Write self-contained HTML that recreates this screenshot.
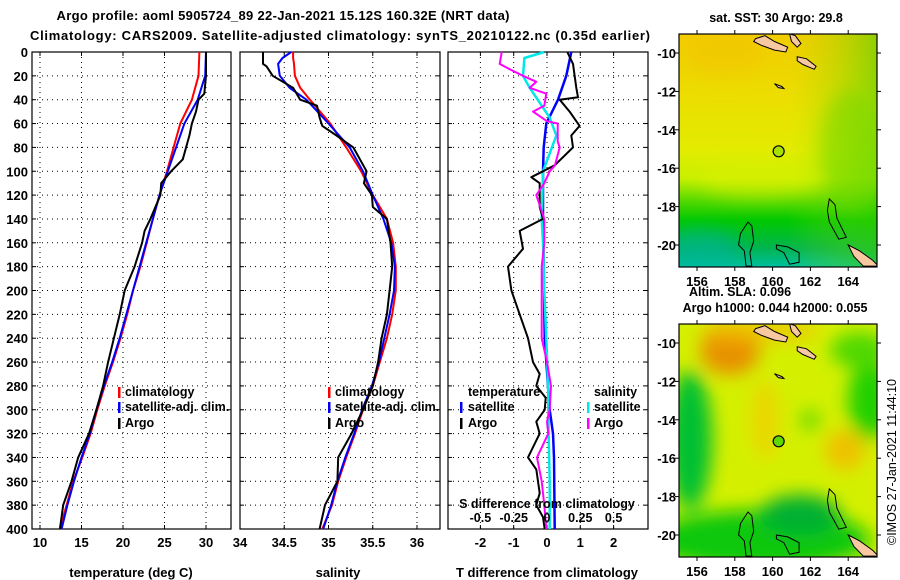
<!DOCTYPE html>
<html><head><meta charset="utf-8"><style>
html,body{margin:0;padding:0;background:#fff;}
svg{display:block;font-family:"Liberation Sans",sans-serif;font-weight:bold;}
</style></head><body>
<svg id="fig" width="900" height="580" viewBox="0 0 900 580" xmlns="http://www.w3.org/2000/svg">
<defs>
<linearGradient id="sstV" x1="0" y1="0" x2="0" y2="1">
<stop offset="0" stop-color="#f2cc00"/><stop offset="0.25" stop-color="#ecdc00"/>
<stop offset="0.5" stop-color="#e2ec00"/><stop offset="0.62" stop-color="#c8f000"/>
<stop offset="0.72" stop-color="#50d800"/><stop offset="0.8" stop-color="#00c800"/>
<stop offset="0.92" stop-color="#00b450"/><stop offset="1" stop-color="#00c0a0"/>
</linearGradient>
<linearGradient id="sstH" x1="0" y1="0" x2="1" y2="0">
<stop offset="0" stop-color="#b0e000" stop-opacity="0"/><stop offset="0.55" stop-color="#b0e000" stop-opacity="0"/>
<stop offset="1" stop-color="#40d000" stop-opacity="0.55"/>
</linearGradient>
<filter id="blur" x="-20%" y="-20%" width="140%" height="140%"><feGaussianBlur stdDeviation="9"/></filter>
<clipPath id="clipMap1"><rect x="679" y="34" width="198" height="233"/></clipPath>
<clipPath id="clipMap2"><rect x="679" y="324" width="198" height="233"/></clipPath>
</defs>
<text x="283" y="20" text-anchor="middle" font-size="13" textLength="453">Argo profile: aoml 5905724_89 22-Jan-2021 15.12S 160.32E (NRT data)</text>
<text x="340" y="40" text-anchor="middle" font-size="13" textLength="620">Climatology: CARS2009. Satellite-adjusted climatology: synTS_20210122.nc (0.35d earlier)</text>
<g id="panels"></g>
<g id="maps"></g>
</svg>
<script>
// ---------- data ----------
const depthsT = [0,20,40,60,80,100,120,140,160,180,200,220,240,260,280,300,320,340,360,380,400];
const tempClim = [29.2,29.1,28.3,26.9,26.1,25.3,24.4,23.6,22.85,22.1,21.2,20.5,19.7,18.8,17.8,16.9,16.1,15.1,14.0,13.2,12.4];
const tempSat  = [30.0,29.9,29.0,27.4,26.4,25.4,24.4,23.6,22.8,22.0,21.2,20.4,19.6,18.7,17.7,16.8,16.0,15.0,14.1,13.3,12.6];
const depthsArgo = [0,20,35,40,50,60,70,80,90,100,110,120,140,150,160,180,200,220,240,260,280,300,320,340,360,380,400];
const tempArgo = [30.0,30.0,29.8,29.1,28.8,28.3,28.0,27.6,27.2,25.8,24.6,24.5,23.3,22.6,22.3,21.4,20.2,19.6,18.9,18.2,17.6,16.8,15.9,14.6,13.8,12.8,12.4];
const depthsS = [0,5,10,20,30,40,60,80,100,120,140,160,180,200,220,240,260,280,300,320,340,360,380,400];
const salClim = [34.60,34.60,34.61,34.62,34.68,34.79,35.02,35.20,35.37,35.50,35.66,35.73,35.76,35.76,35.72,35.66,35.58,35.50,35.39,35.30,35.20,35.11,35.04,34.93];
const salSat  = [34.58,34.48,34.43,34.45,34.56,34.75,35.00,35.24,35.39,35.50,35.62,35.71,35.75,35.74,35.69,35.63,35.57,35.49,35.38,35.29,35.19,35.10,35.03,34.94];
const depthsSArgo = [0,10,12,20,30,40,45,55,62,70,80,100,110,120,130,140,160,180,200,220,240,260,280,300,320,340,360,380,400];
const salArgo = [34.26,34.26,34.30,34.37,34.60,34.68,34.87,34.90,34.93,35.09,35.28,35.43,35.40,35.49,35.50,35.66,35.70,35.72,35.69,35.66,35.60,35.56,35.50,35.39,35.26,35.11,35.10,34.96,34.90];
const depthsDT = [0,10,30,38,40,50,62,70,80,95,105,110,130,140,150,165,180,200,220,240,260,270,280,290,300,310,320,340,350,370,380,390,400];
const dTArgo = [0.61,0.78,0.88,0.93,0.38,0.68,0.98,0.73,0.78,0.23,-0.47,-0.22,-0.22,-0.12,-0.82,-0.72,-1.17,-1.07,-0.82,-0.57,-0.42,-0.22,-0.32,-0.04,-0.07,-0.32,-0.22,-0.57,-0.32,-0.22,-0.32,-0.12,-0.07];
const depthsDTs = [0,20,40,60,80,100,140,180,240,280,300,320,340,400];
const dTSat = [0.73,0.58,0.33,-0.02,-0.10,-0.12,-0.12,-0.10,-0.07,0.03,0.08,0.18,0.21,0.23];
const depthsDSs = [0,5,20,30,40,55,70,85,100,140,160,200,240,280,320,360,400];
const dSSat = [-0.02,-0.17,-0.18,-0.13,-0.07,0.02,0.07,0.02,-0.03,-0.04,-0.03,-0.02,-0.005,0.008,0.012,0.02,0.02];
const depthsDSa = [0,10,15,20,25,30,35,45,50,58,60,75,80,95,100,110,120,140,160,180,240,260,280,300,310,320,340,360,370,380,400];
const dSArgo = [-0.34,-0.355,-0.27,-0.18,-0.08,-0.13,-0.005,-0.02,-0.105,0.0,0.08,0.08,0.095,0.06,0.02,-0.02,-0.08,-0.02,-0.02,-0.04,-0.04,0.0,0.03,0.02,0.0,0.01,-0.075,-0.04,-0.03,-0.02,-0.005];
const depthTicks = [0,20,40,60,80,100,120,140,160,180,200,220,240,260,280,300,320,340,360,380,400];
const tempTicks = [10,15,20,25,30];
const salTicks = [34,34.5,35,35.5,36];
const dTTicks = [-2,-1,0,1,2];
const dSTicks = [-0.5,-0.25,0,0.25,0.5];
const dSTickLabels = ["-0.5","-0.25","0","0.25","0.5"];
const lonTicks = [156,158,160,162,164];
const latTicks = [-10,-12,-14,-16,-18,-20];
const argoLon = 160.32, argoLat = -15.12;

// ---------- scales ----------
const NS="http://www.w3.org/2000/svg";
const Y0=52, Y1=529;
const yD = d => Y0 + d*(Y1-Y0)/400;
const xT = t => 40 + (t-10)*8.3;
const xS = s => 240 + (s-34)*88.5;
const xDT = t => 547 + t*33.3;
const xDS = s => 547 + s*4*33.3;
const mLon = lo => 697 + (lo-156)*18.9;
const mLat1 = la => 53 + (-10-la)*19.2;
const mLat2 = la => 343 + (-10-la)*19.2;

function mk(tag, attrs, parent){const e=document.createElementNS(NS,tag);for(const k in attrs)e.setAttribute(k,attrs[k]);parent.appendChild(e);return e;}
const panels=document.getElementById('panels');

function panel(name,x0,x1,xs,ticks,labels,showY){
  const g=mk('g',{},panels);
  
  
  depthTicks.forEach(d=>{ if(d>0&&d<400) mk('line',{x1:x0,x2:x1,y1:yD(d),y2:yD(d),stroke:'#000','stroke-width':1,'stroke-dasharray':'1 4'},g);
    mk('line',{x1:x0,x2:x0+4,y1:yD(d),y2:yD(d),stroke:'#000'},g);
    mk('line',{x1:x1-4,x2:x1,y1:yD(d),y2:yD(d),stroke:'#000'},g);});
  ticks.forEach((t,i)=>{const x=xs(t); if(x>x0+1&&x<x1-1){ mk('line',{x1:x,x2:x,y1:Y0,y2:Y1,stroke:'#000','stroke-dasharray':'1 4'},g);
    mk('line',{x1:x,x2:x,y1:Y0,y2:Y0+4,stroke:'#000'},g);mk('line',{x1:x,x2:x,y1:Y1-4,y2:Y1,stroke:'#000'},g);}
    if(labels){const tx=mk('text',{x:x,y:547,'text-anchor':'middle','font-size':13},g);tx.textContent=labels[i];
      
      }});
  mk('rect',{x:x0,y:Y0,width:x1-x0,height:Y1-Y0,fill:'none',stroke:'#000','stroke-width':1.2},g);
  if(showY){depthTicks.forEach(d=>{const tx=mk('text',{x:28,y:yD(d)+5,'text-anchor':'end','font-size':13},g);tx.textContent=d;
    
    });}
  return g;
}
function line(g,ds,vs,xs,color,w,name){
  const pts=ds.map((d,i)=>xs(vs[i]).toFixed(1)+','+yD(d).toFixed(1)).join(' ');
  const p=mk('polyline',{points:pts,fill:'none',stroke:color,'stroke-width':w,'stroke-linejoin':'round'},g);
  
  
}
function txt(g,x,y,s,anchor,name,size){const t=mk('text',{x:x,y:y,'text-anchor':anchor||'start','font-size':size||13},g);t.textContent=s;
  
  
  return t;}
function legMark(g,x,y,color){mk('rect',{x:x,y:y-10,width:2.5,height:11,fill:color},g);}

// panel 1
const g1=panel('temperature-panel',32,231,xT,tempTicks,tempTicks.map(String),true);
line(g1,depthsT,tempClim,xT,'#ff0000',2,'temperature-climatology-line');
line(g1,depthsT,tempSat,xT,'#0000ff',2,'temperature-satellite-line');
line(g1,depthsArgo,tempArgo,xT,'#000000',2,'temperature-argo-line');
legMark(g1,118,397,'#ff0000');txt(g1,125,396,'climatology','start','legend-climatology',12.5);
legMark(g1,118,412,'#0000ff');txt(g1,125,411,'satellite-adj. clim.','start','legend-satellite-adj',12.5);
legMark(g1,118,428,'#000');txt(g1,125,427,'Argo','start','legend-argo',12.5);
txt(g1,131,577,'temperature (deg C)','middle','x-axis-title-temperature',13);

// panel 2
const g2=panel('salinity-panel',240,440,xS,salTicks,["34","34.5","35","35.5","36"],false);
line(g2,depthsS,salClim,xS,'#ff0000',2,'salinity-climatology-line');
line(g2,depthsS,salSat,xS,'#0000ff',2,'salinity-satellite-line');
line(g2,depthsSArgo,salArgo,xS,'#000000',2,'salinity-argo-line');
legMark(g2,328,397,'#ff0000');txt(g2,335,396,'climatology','start','legend-climatology',12.5);
legMark(g2,328,412,'#0000ff');txt(g2,335,411,'satellite-adj. clim.','start','legend-satellite-adj',12.5);
legMark(g2,328,428,'#000');txt(g2,335,427,'Argo','start','legend-argo',12.5);
txt(g2,338,577,'salinity','middle','x-axis-title-salinity',13);

// panel 3
const g3=panel('difference-panel',448,648,xDT,dTTicks,dTTicks.map(String),false);
line(g3,depthsDTs,dTSat,xDT,'#0000ff',2.5,'t-diff-satellite-line');
line(g3,depthsDSs,dSSat,xDS,'#00e8e8',2.5,'s-diff-satellite-line');
line(g3,depthsDT,dTArgo,xDT,'#000000',2,'t-diff-argo-line');
line(g3,depthsDSa,dSArgo,xDS,'#ff00ff',2,'s-diff-argo-line');
txt(g3,468,396,'temperature','start','legend-temperature-heading',12.5);
legMark(g3,460,412,'#0000ff');txt(g3,468,411,'satellite','start','legend-t-satellite',12.5);
legMark(g3,460,428,'#000');txt(g3,468,427,'Argo','start','legend-t-argo',12.5);
txt(g3,594,396,'salinity','start','legend-salinity-heading',12.5);
legMark(g3,587,412,'#00e8e8');txt(g3,594,411,'satellite','start','legend-s-satellite',12.5);
legMark(g3,587,428,'#ff00ff');txt(g3,594,427,'Argo','start','legend-s-argo',12.5);
txt(g3,547,508,'S difference from climatology','middle','s-diff-axis-title',12.5);
dSTicks.forEach((s,i)=>txt(g3,xDS(s),522,dSTickLabels[i],'middle','s-diff-tick-label',12.5));
txt(g3,547,577,'T difference from climatology','middle','x-axis-title-t-diff',13);

// ---------- maps ----------
const maps=document.getElementById('maps');
function land(g,latf){
  const sc=(pts)=>pts.map(p=>mLon(p[0]).toFixed(1)+','+latf(p[1]).toFixed(1)).join(' ');
  const lands=[
    [[159.1,-9.25],[159.6,-9.1],[160.1,-9.4],[160.8,-9.7],[160.7,-9.95],[160.1,-9.85],[159.4,-9.6],[159.0,-9.4]],
    [[160.9,-9.0],[161.2,-9.1],[161.5,-9.5],[161.3,-9.7],[161.0,-9.4]],
    [[161.3,-10.2],[161.8,-10.3],[162.3,-10.7],[162.2,-10.85],[161.6,-10.6],[161.3,-10.4]],
    [[160.1,-11.6],[160.5,-11.75],[160.6,-11.85],[160.3,-11.8]],
    [[164.0,-20.0],[164.6,-20.3],[165.3,-20.8],[165.6,-21.1],[164.8,-21.1],[164.3,-20.6]]
  ];
  lands.forEach(l=>{const p=mk('polygon',{points:sc(l),fill:'#f8c8a0',stroke:'#000','stroke-width':1},g);
    
    });
  const reefs=[
    [[158.7,-18.8],[158.9,-19.0],[159.0,-19.8],[158.8,-20.4],[158.9,-21.1],[158.6,-21.1],[158.5,-20.3],[158.2,-20.0],[158.3,-19.4]],
    [[163.0,-17.6],[163.3,-17.9],[163.4,-18.6],[163.9,-19.6],[163.5,-19.7],[163.0,-18.8],[162.9,-18.2]],
    [[160.2,-20.0],[160.8,-20.1],[161.4,-20.4],[161.4,-20.9],[160.9,-21.0],[160.6,-20.4],[160.2,-20.2]]
  ];
  reefs.forEach(l=>{const p=mk('polygon',{points:sc(l),fill:'none',stroke:'#000','stroke-width':1},g);
    
    });
}
function mapFrame(name){
  const g=mk('g',{},maps);
  
  
  return g;
}
function axes(g,y0,latf){
  mk('rect',{x:679,y:y0,width:198,height:233,fill:'none',stroke:'#000','stroke-width':1.2},g);
  lonTicks.forEach(lo=>{const x=mLon(lo);mk('line',{x1:x,x2:x,y1:y0-4,y2:y0,stroke:'#000'},g);mk('line',{x1:x,x2:x,y1:y0+233,y2:y0+237,stroke:'#000'},g);
    txt(g,x,y0+252,String(lo),'middle','longitude-tick-label',13);});
  latTicks.forEach(la=>{const y=latf(la);mk('line',{x1:877,x2:881,y1:y,y2:y,stroke:'#000'},g);mk('line',{x1:675,x2:679,y1:y,y2:y,stroke:'#000'},g);
    txt(g,676,y+5,String(la),'end','latitude-tick-label',13);});
}
// map 1 SST
const m1=mapFrame('sst-map');
txt(m1,776,22,'sat. SST: 30 Argo: 29.8','middle','sst-map-title',12.5);
const m1c=mk('g',{'clip-path':'url(#clipMap1)'},m1);
mk('rect',{x:679,y:34,width:198,height:233,fill:'url(#sstV)'},m1c);
mk('rect',{x:679,y:34,width:198,height:233,fill:'url(#sstH)'},m1c);
const b1=mk('g',{filter:'url(#blur)'},m1c);
mk('ellipse',{cx:725,cy:55,rx:40,ry:22,fill:'#f2bc00',opacity:0.35},b1);
mk('ellipse',{cx:850,cy:150,rx:30,ry:60,fill:'#70d800',opacity:0.5},b1);
mk('ellipse',{cx:760,cy:180,rx:60,ry:18,fill:'#e0f000',opacity:0.5},b1);
mk('ellipse',{cx:700,cy:250,rx:40,ry:20,fill:'#00b4a0',opacity:0.6},b1);
land(m1c,mLat1);
axes(m1,34,mLat1);
const c1=mk('circle',{cx:mLon(argoLon),cy:mLat1(argoLat),r:5.5,fill:'#a8e000',stroke:'#000','stroke-width':1.2},m1);


txt(m1,740,296,'Altim. SLA: 0.096','middle','sla-map-title',12.5);
// map 2 SLA
const m2=mapFrame('sla-map');
txt(m2,775,312,'Argo h1000: 0.044 h2000: 0.055','middle','argo-height-title',12.5);
const m2c=mk('g',{'clip-path':'url(#clipMap2)'},m2);
mk('rect',{x:679,y:324,width:198,height:233,fill:'#d4f000'},m2c);
const b2=mk('g',{filter:'url(#blur)'},m2c);
mk('ellipse',{cx:730,cy:350,rx:30,ry:25,fill:'#e89000'},b2);
mk('ellipse',{cx:760,cy:330,rx:60,ry:12,fill:'#f0c000',opacity:0.8},b2);
mk('ellipse',{cx:690,cy:440,rx:22,ry:70,fill:'#00c030'},b2);
mk('ellipse',{cx:760,cy:540,rx:110,ry:30,fill:'#10c810'},b2);
mk('ellipse',{cx:870,cy:400,rx:22,ry:40,fill:'#20d000'},b2);
mk('ellipse',{cx:860,cy:350,rx:30,ry:18,fill:'#50d800'},b2);
mk('ellipse',{cx:845,cy:450,rx:20,ry:20,fill:'#f0c000'},b2);
mk('ellipse',{cx:765,cy:420,rx:14,ry:40,fill:'#f0d000',opacity:0.8},b2);
mk('ellipse',{cx:810,cy:420,rx:10,ry:10,fill:'#60d800'},b2);
mk('ellipse',{cx:800,cy:515,rx:40,ry:20,fill:'#00b030'},b2);
land(m2c,mLat2);
axes(m2,324,mLat2);
const c2=mk('circle',{cx:mLon(argoLon),cy:mLat2(argoLat),r:5.5,fill:'#60d800',stroke:'#000','stroke-width':1.2},m2);


const cr=txt(maps,0,0,'©IMOS 27-Jan-2021 11:44:10','middle','imos-credit',12.5);
cr.setAttribute('font-weight','normal');
cr.setAttribute('transform','translate(896,462) rotate(-90)');
</script>
</body></html>
